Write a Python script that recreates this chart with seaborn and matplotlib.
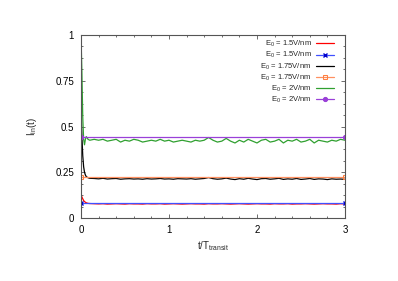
import numpy as np
import pandas as pd
import matplotlib
matplotlib.use("Agg")
import matplotlib.pyplot as plt
import seaborn as sns
from matplotlib.ticker import AutoMinorLocator

# time axis (fast initial part + regular samples)
t = [0, 0.01, 0.02, 0.03, 0.04, 0.05, 0.06, 0.08, 0.1,
     0.15, 0.2, 0.25, 0.3, 0.35, 0.4, 0.45, 0.5, 0.55, 0.6,
     0.65, 0.7, 0.75, 0.8, 0.85, 0.9, 0.95, 1.0, 1.05, 1.1,
     1.15, 1.2, 1.25, 1.3, 1.35, 1.4, 1.45, 1.5, 1.55, 1.6,
     1.65, 1.7, 1.75, 1.8, 1.85, 1.9, 1.95, 2.0, 2.05, 2.1,
     2.15, 2.2, 2.25, 2.3, 2.35, 2.4, 2.45, 2.5, 2.55, 2.6,
     2.65, 2.7, 2.75, 2.8, 2.85, 2.9, 2.95, 3.0]

# simulated currents
i_15 = [0.13, 0.115, 0.105, 0.095, 0.09, 0.086, 0.083, 0.08, 0.079,
        0.078, 0.077, 0.078, 0.076, 0.077, 0.078, 0.077, 0.076, 0.078, 0.077,
        0.077, 0.076, 0.078, 0.077, 0.077, 0.078, 0.076, 0.077, 0.078, 0.077,
        0.076, 0.077, 0.078, 0.077, 0.077, 0.076, 0.078, 0.077, 0.077, 0.078,
        0.077, 0.076, 0.077, 0.078, 0.077, 0.076, 0.077, 0.078, 0.077, 0.077,
        0.076, 0.078, 0.077, 0.077, 0.078, 0.076, 0.077, 0.077, 0.078, 0.077,
        0.076, 0.077, 0.078, 0.077, 0.077, 0.076, 0.078, 0.077]
i_175 = [0.62, 0.45, 0.34, 0.28, 0.25, 0.235, 0.226, 0.22, 0.217,
         0.216, 0.214, 0.217, 0.213, 0.215, 0.216, 0.212, 0.214, 0.215, 0.213,
         0.214, 0.212, 0.215, 0.213, 0.214, 0.216, 0.213, 0.214, 0.212, 0.215,
         0.214, 0.213, 0.215, 0.212, 0.214, 0.216, 0.221, 0.215, 0.212, 0.214,
         0.218, 0.213, 0.210, 0.215, 0.212, 0.217, 0.213, 0.210, 0.215, 0.216,
         0.212, 0.214, 0.217, 0.211, 0.214, 0.212, 0.216, 0.211, 0.213, 0.216,
         0.211, 0.214, 0.213, 0.210, 0.214, 0.212, 0.213, 0.211]
i_2 = [1.0, 0.8, 0.55, 0.43, 0.40, 0.43, 0.445, 0.43, 0.425,
       0.43, 0.425, 0.43, 0.42, 0.425, 0.43, 0.415, 0.425, 0.42, 0.43,
       0.425, 0.415, 0.42, 0.425, 0.42, 0.43, 0.42, 0.425, 0.415, 0.42,
       0.425, 0.42, 0.415, 0.425, 0.42, 0.425, 0.44, 0.425, 0.415, 0.42,
       0.435, 0.42, 0.41, 0.425, 0.415, 0.43, 0.42, 0.41, 0.425, 0.43,
       0.415, 0.42, 0.43, 0.41, 0.425, 0.42, 0.43, 0.415, 0.42, 0.43,
       0.41, 0.425, 0.42, 0.415, 0.425, 0.42, 0.43, 0.425]

# analytic (constant) values, drawn at the two ends
t_ends = [0, 3]
a_15 = [0.08, 0.08]
a_175 = [0.224, 0.224]
a_2 = [0.443, 0.443]

sns.set_style("ticks")
plt.rcParams["font.family"] = ["Liberation Sans", "DejaVu Sans"]
plt.rcParams["mathtext.fontset"] = "custom"
plt.rcParams["mathtext.rm"] = "Liberation Sans"
plt.rcParams["mathtext.it"] = "Liberation Sans"

fig = plt.figure(figsize=(3.98, 2.81), dpi=100)
ax = fig.add_axes([0.2035, 0.2242, 0.6633, 0.6512])

lab = [r"E$_0$ = 1.5V/nm", r"E$_0$ = 1.75V/nm", r"E$_0$ = 2V/nm"]
sns.lineplot(x=t, y=i_15, ax=ax, color="#ff0000", lw=0.9, label=lab[0])
sns.lineplot(x=t_ends, y=a_15, ax=ax, color="#4050ff", lw=0.9, marker="x",
             markersize=3, mew=1, mec="#0000cc", label=lab[0])
sns.lineplot(x=t, y=i_175, ax=ax, color="#000000", lw=0.9, label=lab[1])
sns.lineplot(x=t_ends, y=a_175, ax=ax, color="#ff9060", lw=0.9, marker="s",
             markersize=3, mfc="none", mec="#ff8040", label=lab[1])
sns.lineplot(x=t, y=i_2, ax=ax, color="#30a030", lw=0.9, label=lab[2])
sns.lineplot(x=t_ends, y=a_2, ax=ax, color="#9a40d8", lw=0.9, marker="o",
             markersize=3, mec="#9a40d8", label=lab[2])

ax.set_xlim(0, 3)
ax.set_ylim(0, 1)
ax.set_xticks([0, 1, 2, 3])
ax.set_yticks([0, 0.25, 0.5, 0.75, 1])
ax.set_yticklabels(["0", "0.25", "0.5", "0.75", "1"])
ax.xaxis.set_minor_locator(AutoMinorLocator(5))
ax.yaxis.set_minor_locator(AutoMinorLocator(4))
ax.tick_params(which="both", direction="in", top=True, right=True,
               colors="#555555", labelcolor="black", labelsize=7, width=0.6)
ax.tick_params(which="major", length=3, pad=5)
ax.tick_params(which="minor", length=1.5)
for s in ax.spines.values():
    s.set_color("#555555")
    s.set_linewidth(0.8)

ax.set_xlabel(r"t/T$_{transit}$", fontsize=7, labelpad=3)
ax.set_ylabel(r"I$_{in}$(t)", fontsize=7, labelpad=12)

leg = ax.legend(loc="upper right", bbox_to_anchor=(0.97, 0.995), frameon=False,
                fontsize=5.5, markerfirst=False, handlelength=2.4,
                labelspacing=0.13, borderaxespad=0, handletextpad=0.55)
for col in leg._legend_handle_box.get_children():
    col.align = "right"

fig.savefig("out.png", dpi=100)
